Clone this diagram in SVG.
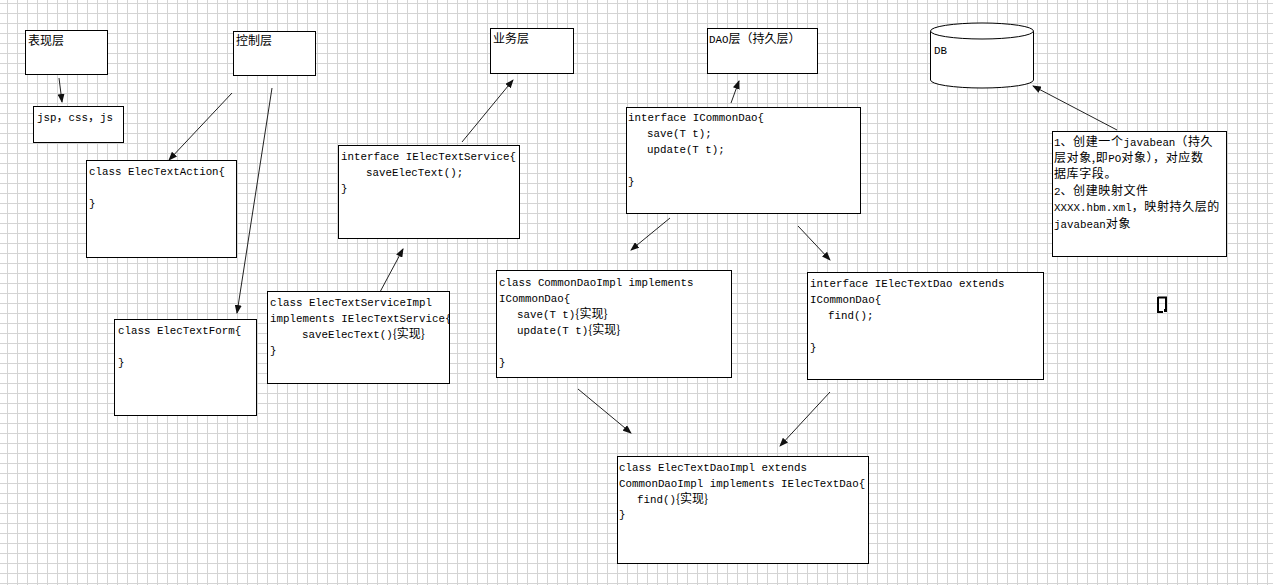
<svg xmlns="http://www.w3.org/2000/svg" width="1273" height="585" viewBox="0 0 1273 585">
<defs>
<pattern id="grid" x="7" y="3" width="10" height="10" patternUnits="userSpaceOnUse">
<path d="M0.5,0 V10 M0,0.5 H10" fill="none" stroke="#d4d4d4" stroke-width="1"/>
</pattern>
<marker id="ah" markerWidth="9" markerHeight="7" refX="8" refY="3.5" orient="auto" markerUnits="userSpaceOnUse">
<path d="M0,0 L9,3.5 L0,7 z" fill="#111"/>
</marker>
<clipPath id="clipSI"><rect x="268" y="292" width="181" height="91"/></clipPath>
<style>
.box{fill:#fff;stroke:#000;stroke-width:1}
.t{font-family:"Liberation Mono","Noto Sans CJK SC",monospace;font-size:10.8px;fill:#000}
.z{font-family:"Noto Sans CJK SC","Liberation Sans",sans-serif;font-size:12px}
.nz{font-family:"Noto Sans CJK SC","Liberation Sans",sans-serif;font-size:12px;letter-spacing:0.6px}
.cn{stroke:#222;stroke-width:1;fill:none;marker-end:url(#ah)}
</style>
</defs>
<rect x="0" y="0" width="1273" height="585" fill="#fff"/>
<rect x="0" y="0" width="1273" height="585" fill="url(#grid)"/>

<g id="connectors">
<line class="cn" x1="59" y1="78" x2="62" y2="102"/>
<line class="cn" x1="232" y1="93" x2="169" y2="160"/>
<line class="cn" x1="272" y1="88" x2="237" y2="313"/>
<line class="cn" x1="462" y1="142" x2="513" y2="80"/>
<line class="cn" x1="380" y1="292" x2="403" y2="249"/>
<line class="cn" x1="731" y1="103" x2="739" y2="81"/>
<line class="cn" x1="670" y1="218" x2="631" y2="250"/>
<line class="cn" x1="798" y1="226" x2="830" y2="260"/>
<line class="cn" x1="578" y1="389" x2="631" y2="433"/>
<line class="cn" x1="830" y1="392" x2="780" y2="446"/>
<line class="cn" x1="1117" y1="130" x2="1033" y2="86"/>
</g>

<g id="presentation">
<rect class="box" x="25.5" y="30.5" width="82" height="44"/>
<text class="t" x="28" y="45"><tspan class="z">表现层</tspan></text>
</g>
<g id="jsp">
<rect class="box" x="33.5" y="106.5" width="90" height="36"/>
<text class="t" x="37" y="121">jsp<tspan class="z">，</tspan>css<tspan class="z">，</tspan>js</text>
</g>
<g id="control">
<rect class="box" x="233.5" y="31.5" width="82" height="44"/>
<text class="t" x="236" y="45"><tspan class="z">控制层</tspan></text>
</g>
<g id="action">
<rect class="box" x="86.5" y="160.5" width="150" height="97"/>
<text class="t" x="89" y="175">class ElecTextAction{</text>
<text class="t" x="89" y="207">}</text>
</g>
<g id="form">
<rect class="box" x="114.5" y="319.5" width="142" height="96"/>
<text class="t" x="118" y="334">class ElecTextForm{</text>
<text class="t" x="118" y="366">}</text>
</g>
<g id="business">
<rect class="box" x="490.5" y="28.5" width="83" height="45"/>
<text class="t" x="493" y="43"><tspan class="z">业务层</tspan></text>
</g>
<g id="iservice">
<rect class="box" x="338.5" y="145.5" width="181" height="93"/>
<text class="t" x="341" y="160">interface IElecTextService{</text>
<text class="t" x="366" y="176">saveElecText();</text>
<text class="t" x="341" y="192">}</text>
</g>
<g id="serviceimpl">
<rect class="box" x="267.5" y="291.5" width="182" height="92"/>
<g clip-path="url(#clipSI)">
<text class="t" x="270" y="306">class ElecTextServiceImpl</text>
<text class="t" x="270" y="322">implements IElecTextService{</text>
<text class="t" x="302" y="338">saveElecText()<tspan class="z">{实现}</tspan></text>
<text class="t" x="270" y="354">}</text>
</g>
</g>
<g id="dao">
<rect class="box" x="707.5" y="28.5" width="110" height="45"/>
<text class="t" x="709" y="43">DAO<tspan class="z">层（持久层）</tspan></text>
</g>
<g id="icommondao">
<rect class="box" x="626.5" y="107.5" width="234" height="106"/>
<text class="t" x="628" y="121">interface ICommonDao{</text>
<text class="t" x="647" y="137">save(T t);</text>
<text class="t" x="647" y="153">update(T t);</text>
<text class="t" x="628" y="185">}</text>
</g>
<g id="commondaoimpl">
<rect class="box" x="496.5" y="270.5" width="235" height="107"/>
<text class="t" x="499" y="286">class CommonDaoImpl implements</text>
<text class="t" x="499" y="302">ICommonDao{</text>
<text class="t" x="517" y="318">save(T t)<tspan class="z">{实现}</tspan></text>
<text class="t" x="517" y="334">update(T t)<tspan class="z">{实现}</tspan></text>
<text class="t" x="499" y="366">}</text>
</g>
<g id="ielectextdao">
<rect class="box" x="807.5" y="272.5" width="236" height="107"/>
<text class="t" x="810" y="287">interface IElecTextDao extends</text>
<text class="t" x="810" y="303">ICommonDao{</text>
<text class="t" x="828" y="319">find();</text>
<text class="t" x="810" y="351">}</text>
</g>
<g id="electextdaoimpl">
<rect class="box" x="617.5" y="456.5" width="251" height="107"/>
<text class="t" x="619" y="471">class ElecTextDaoImpl extends</text>
<text class="t" x="619" y="487">CommonDaoImpl implements IElecTextDao{</text>
<text class="t" x="637" y="503">find()<tspan class="z">{实现}</tspan></text>
<text class="t" x="619" y="518">}</text>
</g>
<g id="db">
<path d="M930.5,31 V80 A51.5,8 0 0 0 1033.5,80 V31" fill="#fff" stroke="#000"/>
<ellipse cx="982" cy="31" rx="51.5" ry="8" fill="#fff" stroke="#000"/>
<text class="t" x="934" y="54">DB</text>
</g>
<g id="note">
<rect class="box" x="1052.5" y="131.5" width="174" height="125"/>
<text class="t" x="1054" y="146">1<tspan class="nz">、创建一个</tspan>javabean<tspan class="nz">（持久</tspan></text>
<text class="t" x="1054" y="162"><tspan class="nz">层对象,即</tspan>PO<tspan class="nz">对象），对应数</tspan></text>
<text class="t" x="1054" y="178"><tspan class="nz">据库字段。</tspan></text>
<text class="t" x="1054" y="195">2<tspan class="nz">、创建映射文件</tspan></text>
<text class="t" x="1054" y="211">XXXX.hbm.xml<tspan class="nz">，映射持久层的</tspan></text>
<text class="t" x="1054" y="228">javabean<tspan class="nz">对象</tspan></text>
</g>
<g id="mark">
<path d="M1158,297.5 H1166 V310 M1158,297 V312 H1163" fill="none" stroke="#000" stroke-width="2"/>
<rect x="1164" y="309" width="3" height="3" fill="#000"/>
</g>
</svg>
